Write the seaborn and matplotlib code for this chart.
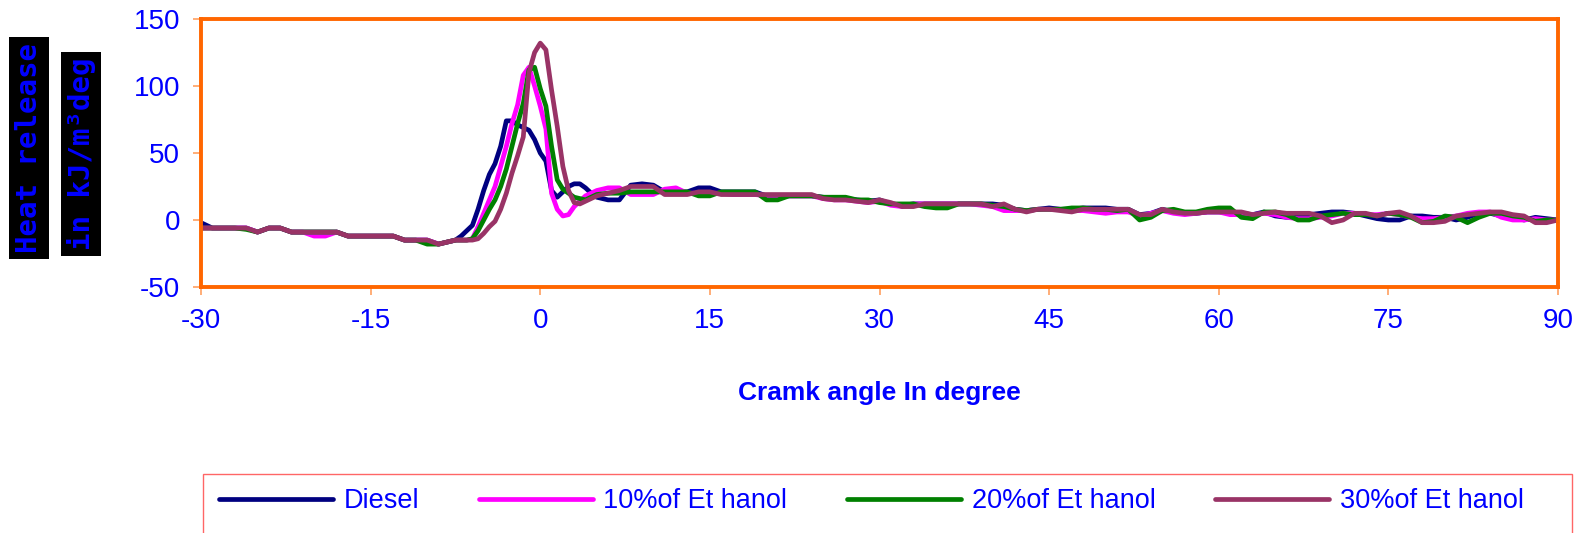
import pandas as pd
import matplotlib
matplotlib.use('Agg')
import matplotlib.pyplot as plt
from matplotlib.patches import Rectangle
import seaborn as sns

# crank angle samples (1 deg, 0.5 deg around TDC)
angle = list(range(-30, -7)) + [v / 2 for v in range(-15, 11)] + list(range(6, 91))

diesel = [-2, -6, -6, -6, -6, -9, -6, -6, -9, -9, -9, -9, -9, -12, -12, -12, -12, -12, -15, -15, -15, -18, -16,
          -15, -12, -8, -4, 8, 22, 34, 42, 55, 74, 74, 71, 69, 67, 60, 50, 44, 22, 17, 21, 25, 27, 27, 24, 20, 17,
          15, 15, 26, 27, 26, 21, 21, 21, 24, 24,
          21, 21, 21, 21, 18, 18, 18, 18, 18, 17,
          16, 16, 15, 14, 15, 12, 11, 12, 12, 12,
          12, 12, 12, 12, 12, 11, 8, 7, 8, 9,
          8, 8, 9, 9, 9, 8, 8, 4, 5, 8,
          6, 5, 5, 6, 6, 6, 5, 4, 6, 3,
          2, 2, 4, 5, 6, 6, 5, 3, 1, 0,
          0, 3, 3, 2, 2, 0, 2, 5, 5, 3,
          2, 0, 2, 1, 0]

eth10 = [-6, -6, -6, -6, -6, -9, -6, -6, -9, -9, -12, -12, -9, -12, -12, -12, -12, -12, -15, -15, -15, -18, -16,
         -15, -15, -15, -14, -5, 5, 15, 25, 40, 55, 72, 86, 108, 114, 100, 85, 68, 20, 8, 3, 4, 10, 14, 18, 20, 22,
         24, 24, 19, 19, 19, 23, 24, 20, 20, 20,
         20, 19, 19, 19, 18, 18, 18, 18, 18, 16,
         15, 15, 14, 13, 14, 11, 10, 12, 12, 12,
         12, 12, 12, 11, 10, 7, 7, 7, 8, 8,
         8, 7, 7, 6, 5, 6, 6, 3, 5, 7,
         5, 4, 5, 6, 6, 4, 4, 4, 5, 4,
         2, 1, 1, 2, 3, 5, 5, 4, 4, 5,
         4, 2, 1, 1, 2, 3, 5, 6, 6, 2,
         0, 0, 1, 0, 0]

eth20 = [-6, -6, -6, -6, -7, -9, -6, -6, -9, -9, -9, -9, -9, -12, -12, -12, -12, -12, -15, -15, -18, -18, -16,
         -15, -15, -15, -14, -8, 0, 8, 15, 25, 38, 55, 72, 87, 112, 114, 98, 85, 55, 30, 23, 20, 17, 16, 15, 17, 19,
         20, 20, 21, 21, 21, 21, 21, 21, 18, 18,
         21, 21, 21, 21, 15, 15, 18, 18, 18, 17,
         17, 17, 15, 15, 13, 12, 12, 12, 10, 9,
         9, 12, 12, 12, 11, 10, 8, 7, 8, 8,
         8, 9, 9, 8, 8, 7, 8, 0, 2, 7,
         8, 6, 6, 8, 9, 9, 2, 1, 6, 6,
         4, 0, 0, 3, 4, 5, 4, 4, 3, 5,
         4, 2, -2, -1, 3, 2, -2, 2, 5, 5,
         3, 2, -1, 0, 0]

eth30 = [-6, -6, -6, -6, -6, -9, -6, -6, -9, -9, -9, -9, -9, -12, -12, -12, -12, -12, -15, -15, -15, -18, -16,
         -15, -15, -15, -15, -14, -10, -5, -1, 8, 20, 35, 48, 62, 110, 125, 132, 127, 97, 70, 40, 22, 13, 12, 14, 16, 18,
         20, 22, 25, 25, 25, 19, 19, 19, 21, 21,
         19, 19, 19, 19, 19, 19, 19, 19, 19, 16,
         15, 15, 14, 13, 15, 13, 10, 10, 12, 12,
         12, 12, 12, 12, 10, 12, 8, 6, 8, 8,
         7, 6, 8, 8, 8, 8, 8, 4, 4, 8,
         6, 5, 5, 6, 6, 6, 6, 4, 5, 6,
         5, 5, 5, 3, -2, 0, 5, 5, 3, 5,
         6, 3, -2, -2, -1, 3, 4, 5, 6, 6,
         4, 3, -2, -2, 0]

fuels = ['Diesel', '10%of Et hanol', '20%of Et hanol', '30%of Et hanol']
colors = ['#000080', '#FF00FF', '#008000', '#993366']
x_ticks = [-30, -15, 0, 15, 30, 45, 60, 75, 90]
y_ticks = [-50, 0, 50, 100, 150]

frames = []
for name, vals in zip(fuels, [diesel, eth10, eth20, eth30]):
    frames.append(pd.DataFrame({'angle': angle, 'hr': vals, 'fuel': name}))
df = pd.concat(frames, ignore_index=True)

sns.set_style('white')
plt.rcParams['font.family'] = ['Liberation Sans', 'DejaVu Sans']
plt.rcParams['axes.unicode_minus'] = False

fig = plt.figure(figsize=(15.9, 5.33), dpi=100)
ax = fig.add_axes([201 / 1590, 1 - 287 / 533, (1558 - 201) / 1590, (287 - 19) / 533])

sns.lineplot(data=df, x='angle', y='hr', hue='fuel', hue_order=fuels, palette=colors,
             sort=False, estimator=None, linewidth=3.4, legend=False, ax=ax)

ax.set_xlim(-30, 90)
ax.set_ylim(-50, 150)
ax.set_xticks(x_ticks)
ax.set_yticks(y_ticks)
for s in ax.spines.values():
    s.set_color('#FF6600')
    s.set_linewidth(2.8)
ax.tick_params(axis='both', which='major', direction='out', length=6, width=1.2,
               color='#FFA060', labelcolor='#0000FF', labelsize=20, pad=9,
               bottom=True, left=True)
ax.set_xlabel('Cramk angle In degree', color='#0000FF', fontsize=19, fontweight='bold', labelpad=34)
ax.set_ylabel('')
ax.grid(False)

# y label drawn as two black boxes
fig.text(29 / 1590, 1 - 148 / 533, 'Heat release', rotation=90, ha='center', va='center',
         color='#0000FF', fontsize=21, fontweight='bold', family='DejaVu Sans Mono',
         bbox=dict(facecolor='black', edgecolor='none', pad=4))
fig.text(81 / 1590, 1 - 154 / 533, 'in kJ/m³deg', rotation=90, ha='center', va='center',
         color='#0000FF', fontsize=21, fontweight='bold', family='DejaVu Sans Mono',
         bbox=dict(facecolor='black', edgecolor='none', pad=4))

# legend box (runs off the bottom edge)
fig.patches.append(Rectangle((203 / 1590, -0.05), (1572 - 203) / 1590, 1 - 474 / 533 + 0.05,
                             transform=fig.transFigure, fill=False, edgecolor='#FF6666', linewidth=1))
leg = fig.legend(handles=ax.lines[:4], labels=fuels, loc='center left',
                 bbox_to_anchor=(219 / 1590, 1 - 501 / 533), ncol=4, fontsize=19.5,
                 handlelength=4.2, handletextpad=0.4, columnspacing=2.2,
                 borderpad=0, borderaxespad=0, frameon=False)
for t in leg.get_texts():
    t.set_color('#0000FF')

fig.savefig('out.png', dpi=100)
